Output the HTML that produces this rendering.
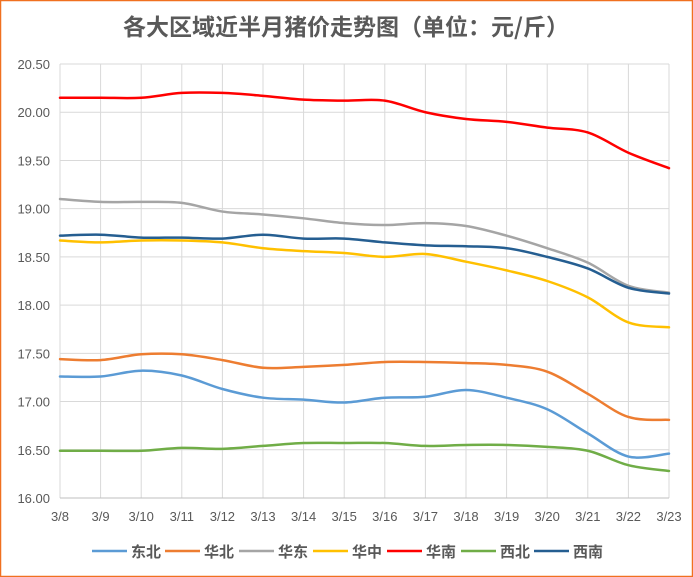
<!DOCTYPE html>
<html><head><meta charset="utf-8"><style>
body{margin:0;background:#fff;}
svg{display:block;font-family:"Liberation Sans","Noto Sans CJK SC",sans-serif;}
</style></head><body>
<svg id="s" width="693" height="577" viewBox="0 0 693 577">
<rect x="0.5" y="0.5" width="692" height="576" fill="#fff" stroke="#f07020" stroke-width="1.5"/>
<text x="346" y="35" text-anchor="middle" font-size="23" font-weight="bold" fill="#595959" font-family="'Noto Sans CJK SC',sans-serif">各大区域近半月猪价走势图（单位：元/斤）</text>
<g id="grid"></g><g id="lines"></g><g id="leg"></g>
</svg>
<script>
var L=60,R=669,T=64,B=498,ns="http://www.w3.org/2000/svg";
function el(p,t,a,tx){var e=document.createElementNS(ns,t);for(var k in a)e.setAttribute(k,a[k]);if(tx!=null)e.textContent=tx;p.appendChild(e);return e;}
var g=document.getElementById('grid');
function Y(v){return B-(v-16)/4.5*(B-T);}
function X(i){return L+i*(R-L)/15;}
for(var i=0;i<=9;i++){var v=16+i*0.5,y=Y(v);el(g,'line',{x1:L,x2:R,y1:y,y2:y,stroke:'#d9d9d9'});el(g,'text',{x:50,y:y+5,'text-anchor':'end','font-size':13,fill:'#595959'},v.toFixed(2));}
for(var i=0;i<=15;i++){var x=X(i);el(g,'line',{x1:x,x2:x,y1:T,y2:B,stroke:'#d9d9d9'});el(g,'text',{x:x,y:521,'text-anchor':'middle','font-size':13,fill:'#595959'},'3/'+(8+i));}
el(g,'line',{x1:L,x2:R,y1:B,y2:B,stroke:'#bfbfbf'});
var S=[
['东北','#5b9bd5',[17.26,17.26,17.32,17.27,17.13,17.04,17.02,16.99,17.04,17.05,17.12,17.04,16.92,16.67,16.43,16.46]],
['华北','#ed7d31',[17.44,17.43,17.49,17.49,17.43,17.35,17.36,17.38,17.41,17.41,17.40,17.38,17.31,17.08,16.84,16.81]],
['华东','#a5a5a5',[19.10,19.07,19.07,19.06,18.97,18.94,18.90,18.85,18.83,18.85,18.82,18.72,18.59,18.44,18.20,18.13]],
['华中','#ffc000',[18.67,18.65,18.67,18.67,18.65,18.59,18.56,18.54,18.50,18.53,18.45,18.36,18.25,18.08,17.82,17.77]],
['华南','#ff0000',[20.15,20.15,20.15,20.20,20.20,20.17,20.13,20.12,20.12,20.00,19.93,19.90,19.84,19.79,19.58,19.42]],
['西北','#70ad47',[16.49,16.49,16.49,16.52,16.51,16.54,16.57,16.57,16.57,16.54,16.55,16.55,16.53,16.49,16.34,16.28]],
['西南','#255e91',[18.72,18.73,18.70,18.70,18.69,18.73,18.69,18.69,18.65,18.62,18.61,18.59,18.50,18.38,18.18,18.12]]];
var lg=document.getElementById('lines'),lgd=document.getElementById('leg');
var lx=[92,165,239,313,387,461,534];
S.forEach(function(s,k){
 var p=s[2].map(function(v,i){return [X(i),Y(v)];}),d='M'+p[0][0]+','+p[0][1];
 for(var i=0;i<p.length-1;i++){var a=p[Math.max(i-1,0)],b=p[i],c=p[i+1],e=p[Math.min(i+2,p.length-1)];
  d+=' C'+(b[0]+(c[0]-a[0])/6)+','+(b[1]+(c[1]-a[1])/6)+' '+(c[0]-(e[0]-b[0])/6)+','+(c[1]-(e[1]-b[1])/6)+' '+c[0]+','+c[1];}
 el(lg,'path',{d:d,fill:'none',stroke:s[1],'stroke-width':2.5,'stroke-linecap':'round'});
 var x=lx[k];el(lgd,'line',{x1:x,x2:x+35,y1:551,y2:551,stroke:s[1],'stroke-width':2.5});
 el(lgd,'text',{x:x+39,y:557,'font-size':15,'font-weight':'bold',fill:'#595959'},s[0]);
});
</script>
</body></html>
